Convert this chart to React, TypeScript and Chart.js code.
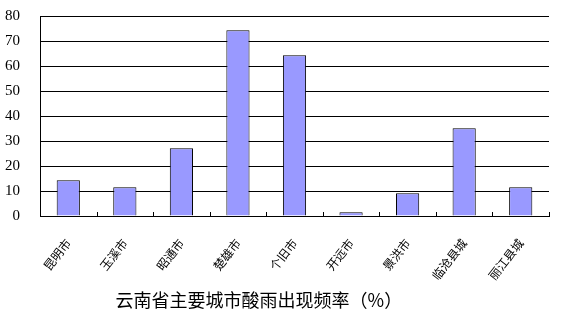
import React, { useEffect, useRef } from "react";
import { Chart, registerables } from "chart.js";

Chart.register(...registerables);

const categories = ["昆明市", "玉溪市", "昭通市", "楚雄市", "个旧市", "开远市", "景洪市", "临沧县城", "丽江县城"];
const frequency = [14.3, 11.5, 27.1, 74.3, 64.3, 1.5, 9.1, 35.1, 11.5];
const yMin = 0;
const yMax = 80;
const yStep = 10;
const chartTitle = "云南省主要城市酸雨出现频率（%）";

const innerTicks = {
  id: "innerTicks",
  afterDatasetsDraw(chart: any) {
    const x = chart.scales.x;
    const ctx = chart.ctx;
    const n = categories.length;
    const w = (x.right - x.left) / n;
    ctx.save();
    ctx.strokeStyle = "#000";
    ctx.lineWidth = 1;
    ctx.beginPath();
    for (let i = 1; i <= n; i++) {
      const px = Math.round(x.left + i * w) + 0.5;
      ctx.moveTo(px, x.top - 4);
      ctx.lineTo(px, x.top);
    }
    ctx.stroke();
    ctx.restore();
  },
};

const bottomTitle = {
  id: "bottomTitle",
  afterDraw(chart: any) {
    const { ctx, chartArea } = chart;
    ctx.save();
    ctx.fillStyle = "#000";
    ctx.font = '18px "Noto Sans CJK SC"';
    ctx.textAlign = "center";
    ctx.textBaseline = "middle";
    const cx = chartArea.left + (chartArea.right - chartArea.left) * 0.43;
    ctx.fillText(chartTitle, cx, 300);
    ctx.restore();
  },
};

export default function App() {
  const ref = useRef<HTMLCanvasElement | null>(null);
  useEffect(() => {
    if (!ref.current) return;
    const chart = new Chart(ref.current, {
      type: "bar",
      data: {
        labels: categories,
        datasets: [
          {
            data: frequency,
            backgroundColor: "#9999FF",
            borderColor: "#000000",
            borderWidth: 1,
            barPercentage: 0.41,
            categoryPercentage: 1,
          },
        ],
      },
      options: {
        animation: false,
        responsive: false,
        maintainAspectRatio: false,
        layout: { padding: { top: 16, right: 12, left: 0, bottom: 0 } },
        plugins: { legend: { display: false }, tooltip: { enabled: false }, title: { display: false } },
        scales: {
          x: {
            grid: { display: false },
            border: { display: true, color: "#000", width: 1 },
            ticks: {
              color: "#000",
              font: { family: '"Noto Sans CJK SC"', size: 12 },
              minRotation: 52,
              maxRotation: 52,
              padding: 12,
              autoSkip: false,
            },
            afterFit(scale: any) {
              scale.height = 100;
              scale.paddingLeft = 0;
              scale.paddingRight = 0;
            },
          },
          y: {
            min: yMin,
            max: yMax,
            grid: { color: "#000", lineWidth: 1, drawTicks: false },
            border: { display: true, color: "#000", width: 1 },
            ticks: {
              stepSize: yStep,
              color: "#000",
              font: { family: '"Liberation Serif"', size: 15 },
              padding: 20,
            },
            afterFit(scale: any) {
              scale.width = 40;
              scale.paddingTop = 0;
              scale.paddingBottom = 0;
            },
          },
        },
      },
      plugins: [innerTicks, bottomTitle],
    });
    return () => chart.destroy();
  }, []);
  return (
    <div style={{ position: "fixed", left: 0, top: 0, width: 561, height: 316, background: "#fff" }}>
      <canvas ref={ref} width={561} height={316} style={{ display: "block" }} />
    </div>
  );
}
